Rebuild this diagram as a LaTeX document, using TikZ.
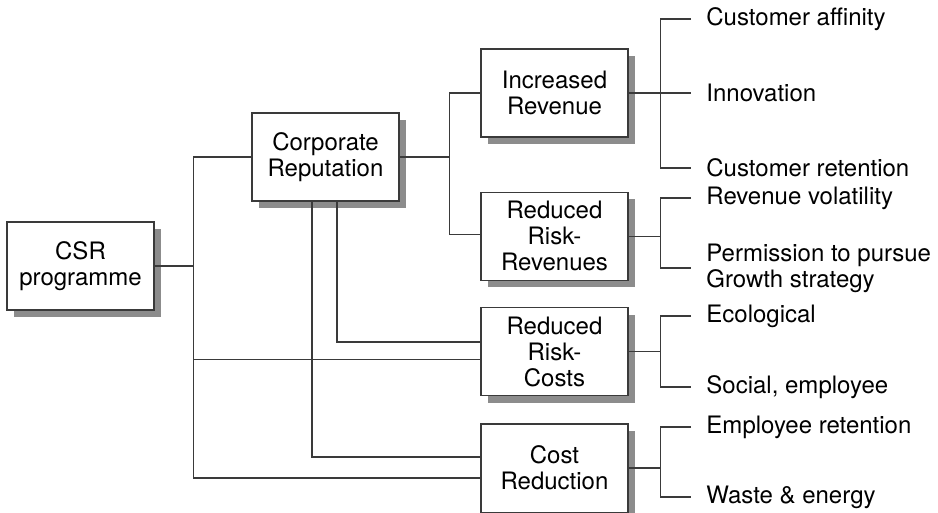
\documentclass[tikz,border=0pt]{standalone}
\usepackage{fontspec}
\setmainfont{TeX Gyre Heros}
\usepackage{xcolor}
\usepackage{tikz}
\usetikzlibrary{calc,positioning,shadows}
\definecolor{ink}{HTML}{3A3A3A}
\definecolor{shade}{HTML}{8C8C8C}
\tikzset{
  font=\fontsize{12}{13}\selectfont,
  box/.style={
    draw=ink, line width=0.7pt, fill=white,
    minimum width=73.5pt, minimum height=44pt, align=center, inner sep=2pt,
    drop shadow={shadow xshift=3.5pt, shadow yshift=-3.5pt, fill=shade, opacity=1}
  },
  leaf/.style={anchor=west, align=left, inner xsep=7.5pt, inner ysep=0pt},
  link/.style={draw=ink, line width=0.7pt},
  heavylink/.style={link, line width=1.2pt}
}

\begin{document}
\begin{tikzpicture}
  \useasboundingbox (0,0) rectangle (469pt,-256.5pt);

  \node[box] (csr) at (40.25pt,-133pt) {CSR\\programme};
  \node[box] (rep) at (162.75pt,-78.5pt) {Corporate\\Reputation};
  \node[box] (incr) at (277.25pt,-46.5pt) {Increased\\Revenue};
  \node[box, below=27pt of incr] (rrrev) {Reduced\\Risk-\\Revenues};
  \node[box, below=13pt of rrrev] (rrcost) {Reduced\\Risk-\\Costs};
  \node[box, below=13.5pt of rrcost] (costred) {Cost\\Reduction};

  \node[leaf] (affinity) at (345.5pt,-9.5pt) {Customer affinity};
  \node[leaf] (innov) at (345.5pt,-46.5pt) {Innovation};
  \node[leaf] (retain) at (345.5pt,-84pt) {Customer retention};
  \node[leaf] (volat) at (345.5pt,-99pt) {Revenue volatility};
  \node[leaf] (permit) at (345.5pt,-134pt) {Permission to pursue\\Growth strategy};
  \node[leaf] (eco) at (345.5pt,-158pt) {Ecological};
  \node[leaf] (social) at (345.5pt,-193.5pt) {Social, employee};
  \node[leaf] (emplret) at (345.5pt,-213.5pt) {Employee retention};
  \node[leaf] (waste) at (345.5pt,-248.5pt) {Waste \& energy};

  \coordinate (bus) at ($(csr.east)+(19.5pt,0)$);
  \draw[link] (csr.east) -- (bus);
  \draw[link] (bus) |- (rep.west);
  \draw[link] (bus) |- ([yshift=-4pt]rrcost.west);
  \draw[link] (bus) |- ([yshift=-5pt]costred.west);
  \draw[link] ([xshift=-6.75pt]rep.south) |- ([yshift=5.5pt]costred.west);
  \draw[heavylink] ([xshift=5.75pt]rep.south) |- ([yshift=5pt]rrcost.west);

  \coordinate (repfork) at ($(rep.east)+(25pt,0)$);
  \draw[link] (rep.east) -- (repfork);
  \draw[link] (repfork) |- (incr.west);
  \draw[link] (repfork) |- ([yshift=1pt]rrrev.west);

  \draw[link] (incr.east) -- (innov.west);
  \foreach \parent/\upper/\lower in {incr/affinity/retain, rrrev/volat/permit, rrcost/eco/social, costred/emplret/waste} {
    \draw[link] (\parent.east) -- ++(16pt,0) coordinate (fork);
    \draw[link] (\upper.west) -| (fork) |- (\lower.west);
  }
\end{tikzpicture}
\end{document}
